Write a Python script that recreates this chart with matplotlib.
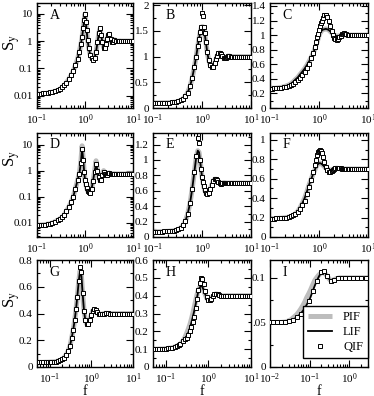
import matplotlib
matplotlib.use("Agg")
import matplotlib.pyplot as plt
from matplotlib.ticker import FuncFormatter, MultipleLocator, AutoMinorLocator

plt.rcParams["font.family"] = "serif"
plt.rcParams["font.serif"] = ["Liberation Serif", "DejaVu Serif"]
plt.rcParams["mathtext.fontset"] = "stix"

# ── frequency grids ───────────────────────────────────────────────────────────
f_top = [0.1, 0.11, 0.12, 0.135, 0.15, 0.17, 0.19, 0.21, 0.24, 0.27,
         0.3, 0.33, 0.37, 0.41, 0.46, 0.51, 0.57, 0.63, 0.7, 0.76,
         0.82, 0.87, 0.92, 0.96, 1.0, 1.04, 1.08, 1.13, 1.2, 1.28,
         1.37, 1.47, 1.58, 1.7, 1.82, 1.95, 2.05, 2.17, 2.3, 2.45,
         2.6, 2.75, 2.9, 3.05, 3.2, 3.4, 3.6, 3.85, 4.1, 4.4,
         4.8, 5.2, 5.7, 6.2, 6.8, 7.5, 8.2, 9.0, 10.0]
f_low = [0.05, 0.056, 0.063, 0.07, 0.08, 0.09, 0.1, 0.11, 0.125, 0.14,
         0.16, 0.18, 0.2, 0.22, 0.25, 0.28, 0.31, 0.34, 0.37, 0.4,
         0.43, 0.46, 0.5, 0.54, 0.58, 0.62, 0.67, 0.72, 0.78, 0.85,
         0.92, 1.0, 1.08, 1.17, 1.27, 1.38, 1.5, 1.65, 1.8, 2.0,
         2.2, 2.5, 2.8, 3.2, 3.6, 4.1, 4.7, 5.4, 6.2, 7.1,
         8.1, 9.0, 10.0]
f_i = [0.01, 0.011, 0.012, 0.0135, 0.015, 0.017, 0.019, 0.021, 0.024, 0.027,
       0.03, 0.034, 0.038, 0.043, 0.048, 0.054, 0.06, 0.068, 0.076, 0.085,
       0.095, 0.105, 0.12, 0.135, 0.15, 0.17, 0.19, 0.21, 0.23, 0.255,
       0.28, 0.31, 0.34, 0.38, 0.42, 0.47, 0.52, 0.58, 0.65, 0.72,
       0.8, 0.9, 1.0, 1.12, 1.25, 1.4, 1.6, 1.8, 2.0, 2.3,
       2.6, 3.0]

# ── panel A ───────────────────────────────────────────────────────────────────
lif_a = [0.011, 0.0112, 0.0115, 0.012, 0.012, 0.0125, 0.013, 0.0135, 0.0145, 0.0155,
         0.017, 0.02, 0.024, 0.03, 0.04, 0.055, 0.08, 0.13, 0.22, 0.4,
         0.75, 1.4, 3.0, 6.0, 10.0, 5.0, 2.5, 1.1, 0.55, 0.32,
         0.23, 0.21, 0.24, 0.4, 0.9, 2.0, 2.9, 1.7, 0.9, 0.58,
         0.55, 0.75, 1.2, 1.7, 1.8, 1.2, 0.9, 0.95, 1.12, 1.05,
         0.97, 1.02, 1.0, 1.0, 1.0, 1.0, 1.0, 1.0, 1.0]
pif_a = lif_a
qif_a = lif_a

# ── panel B ───────────────────────────────────────────────────────────────────
lif_b = [0.1, 0.1, 0.1, 0.1, 0.1, 0.101, 0.102, 0.104, 0.107, 0.112,
         0.12, 0.13, 0.15, 0.18, 0.23, 0.3, 0.42, 0.58, 0.8, 1.0,
         1.2, 1.35, 1.47, 1.55, 1.58, 1.58, 1.55, 1.45, 1.28, 1.08,
         0.93, 0.83, 0.79, 0.8, 0.87, 0.96, 1.02, 1.06, 1.07, 1.05,
         1.01, 0.98, 0.97, 0.98, 0.99, 1.01, 1.01, 1.0, 1.0, 1.0,
         1.0, 1.0, 1.0, 1.0, 1.0, 1.0, 1.0, 1.0, 1.0]
pif_b = lif_b
qif_b = [0.1, 0.1, 0.1, 0.1, 0.1, 0.101, 0.102, 0.104, 0.107, 0.112,
         0.12, 0.13, 0.15, 0.18, 0.23, 0.3, 0.42, 0.58, 0.8, 1.0,
         1.2, 1.35, 1.47, 1.57, 1.85, 1.78, 1.58, 1.45, 1.28, 1.08,
         0.93, 0.83, 0.79, 0.8, 0.87, 0.96, 1.02, 1.06, 1.07, 1.05,
         1.01, 0.98, 0.97, 0.98, 0.99, 1.01, 1.01, 1.0, 1.0, 1.0,
         1.0, 1.0, 1.0, 1.0, 1.0, 1.0, 1.0, 1.0, 1.0]

# ── panel C ───────────────────────────────────────────────────────────────────
lif_c = [0.265, 0.267, 0.27, 0.273, 0.277, 0.283, 0.29, 0.3, 0.315, 0.335,
         0.36, 0.39, 0.42, 0.46, 0.5, 0.54, 0.59, 0.64, 0.7, 0.75,
         0.81, 0.86, 0.91, 0.95, 0.99, 1.02, 1.04, 1.06, 1.075, 1.08,
         1.085, 1.08, 1.07, 1.05, 1.03, 1.01, 1.0, 0.99, 0.985, 0.985,
         0.99, 0.995, 1.0, 1.005, 1.005, 1.0, 1.0, 1.0, 1.0, 1.0,
         1.0, 1.0, 1.0, 1.0, 1.0, 1.0, 1.0, 1.0, 1.0]
pif_c = lif_c
qif_c = [0.265, 0.267, 0.27, 0.273, 0.277, 0.28, 0.285, 0.292, 0.302, 0.315,
         0.33, 0.35, 0.38, 0.41, 0.45, 0.5, 0.55, 0.61, 0.68, 0.75,
         0.83, 0.9, 0.97, 1.02, 1.07, 1.12, 1.16, 1.2, 1.24, 1.27,
         1.27, 1.25, 1.2, 1.13, 1.06, 1.0, 0.96, 0.94, 0.935, 0.95,
         0.97, 0.99, 1.01, 1.02, 1.025, 1.02, 1.01, 1.0, 1.0, 1.0,
         1.0, 1.0, 1.0, 1.0, 1.0, 1.0, 1.0, 1.0, 1.0]

# ── panel D ───────────────────────────────────────────────────────────────────
lif_d = [0.0078, 0.0079, 0.008, 0.0082, 0.0084, 0.0088, 0.0092, 0.0098, 0.011, 0.0125,
         0.014, 0.016, 0.02, 0.028, 0.04, 0.06, 0.1, 0.2, 0.42, 0.75,
         2.0, 7.0, 2.5, 0.9, 0.45, 0.3, 0.22, 0.17, 0.145, 0.14,
         0.2, 0.4, 0.9, 1.85, 1.0, 0.55, 0.42, 0.45, 0.65, 0.88,
         0.75, 0.65, 0.68, 0.78, 0.8, 0.74, 0.72, 0.76, 0.76, 0.75,
         0.75, 0.75, 0.75, 0.75, 0.75, 0.75, 0.75, 0.75, 0.75]
pif_d = [0.0078, 0.0079, 0.008, 0.0082, 0.0084, 0.0088, 0.0092, 0.0098, 0.011, 0.0125,
         0.014, 0.016, 0.02, 0.028, 0.04, 0.06, 0.1, 0.2, 0.42, 0.78,
         2.2, 9.0, 2.7, 0.95, 0.45, 0.3, 0.22, 0.17, 0.145, 0.14,
         0.2, 0.41, 0.95, 2.4, 1.1, 0.55, 0.41, 0.45, 0.68, 1.0,
         0.78, 0.64, 0.68, 0.8, 0.81, 0.74, 0.72, 0.76, 0.76, 0.75,
         0.75, 0.75, 0.75, 0.75, 0.75, 0.75, 0.75, 0.75, 0.75]
qif_d = lif_d

# ── panel E ───────────────────────────────────────────────────────────────────
lif_e = [0.07, 0.07, 0.07, 0.07, 0.071, 0.072, 0.073, 0.075, 0.078, 0.083,
         0.09, 0.1, 0.12, 0.15, 0.21, 0.3, 0.44, 0.62, 0.85, 1.03,
         1.12, 1.1, 0.98, 0.88, 0.78, 0.72, 0.66, 0.61, 0.57, 0.555,
         0.57, 0.62, 0.68, 0.73, 0.75, 0.75, 0.74, 0.72, 0.7, 0.69,
         0.7, 0.705, 0.705, 0.7, 0.7, 0.7, 0.7, 0.7, 0.7, 0.7,
         0.7, 0.7, 0.7, 0.7, 0.7, 0.7, 0.7, 0.7, 0.7]
pif_e = lif_e
qif_e = [0.07, 0.07, 0.07, 0.07, 0.071, 0.072, 0.073, 0.075, 0.078, 0.083,
         0.09, 0.1, 0.12, 0.15, 0.21, 0.3, 0.44, 0.62, 0.85, 1.05,
         1.28, 1.22, 1.0, 0.88, 0.78, 0.72, 0.66, 0.61, 0.57, 0.555,
         0.57, 0.62, 0.68, 0.73, 0.75, 0.75, 0.74, 0.72, 0.7, 0.69,
         0.7, 0.705, 0.705, 0.7, 0.7, 0.7, 0.7, 0.7, 0.7, 0.7,
         0.7, 0.7, 0.7, 0.7, 0.7, 0.7, 0.7, 0.7, 0.7]

# ── panel F ───────────────────────────────────────────────────────────────────
lif_f = [0.19, 0.19, 0.19, 0.191, 0.192, 0.194, 0.197, 0.2, 0.205, 0.213,
         0.225, 0.24, 0.265, 0.3, 0.35, 0.4, 0.47, 0.54, 0.6, 0.65,
         0.69, 0.72, 0.74, 0.752, 0.758, 0.76, 0.758, 0.752, 0.74, 0.725,
         0.71, 0.698, 0.69, 0.688, 0.692, 0.698, 0.703, 0.707, 0.708, 0.706,
         0.703, 0.7, 0.699, 0.7, 0.7, 0.7, 0.7, 0.7, 0.7, 0.7,
         0.7, 0.7, 0.7, 0.7, 0.7, 0.7, 0.7, 0.7, 0.7]
pif_f = lif_f
qif_f = [0.19, 0.19, 0.19, 0.191, 0.192, 0.194, 0.197, 0.2, 0.205, 0.213,
         0.222, 0.235, 0.255, 0.285, 0.325, 0.37, 0.44, 0.51, 0.59, 0.67,
         0.74, 0.79, 0.84, 0.87, 0.885, 0.89, 0.885, 0.86, 0.82, 0.77,
         0.72, 0.685, 0.665, 0.665, 0.675, 0.69, 0.7, 0.71, 0.715, 0.715,
         0.71, 0.705, 0.7, 0.7, 0.7, 0.7, 0.7, 0.7, 0.7, 0.7,
         0.7, 0.7, 0.7, 0.7, 0.7, 0.7, 0.7, 0.7, 0.7]

# ── panel G ───────────────────────────────────────────────────────────────────
lif_g = [0.035, 0.035, 0.035, 0.035, 0.036, 0.036, 0.037, 0.038, 0.039, 0.041,
         0.045, 0.05, 0.058, 0.068, 0.09, 0.12, 0.16, 0.22, 0.28, 0.35,
         0.43, 0.52, 0.64, 0.72, 0.68, 0.55, 0.42, 0.35, 0.32, 0.32,
         0.35, 0.39, 0.42, 0.43, 0.425, 0.41, 0.398, 0.394, 0.396, 0.4,
         0.402, 0.401, 0.4, 0.4, 0.4, 0.4, 0.4, 0.4, 0.4, 0.4,
         0.4, 0.4, 0.4]
pif_g = lif_g
qif_g = [0.035, 0.035, 0.035, 0.035, 0.036, 0.036, 0.037, 0.038, 0.039, 0.041,
         0.045, 0.05, 0.058, 0.068, 0.09, 0.12, 0.16, 0.22, 0.28, 0.35,
         0.43, 0.52, 0.64, 0.75, 0.71, 0.55, 0.42, 0.35, 0.32, 0.32,
         0.35, 0.39, 0.42, 0.43, 0.425, 0.41, 0.398, 0.394, 0.396, 0.4,
         0.402, 0.401, 0.4, 0.4, 0.4, 0.4, 0.4, 0.4, 0.4, 0.4,
         0.4, 0.4, 0.4]

# ── panel H ───────────────────────────────────────────────────────────────────
lif_h = [0.1, 0.1, 0.1, 0.101, 0.101, 0.102, 0.103, 0.104, 0.106, 0.108,
         0.112, 0.117, 0.123, 0.13, 0.143, 0.158, 0.175, 0.195, 0.22, 0.25,
         0.28, 0.31, 0.35, 0.39, 0.425, 0.445, 0.455, 0.45, 0.43, 0.405,
         0.385, 0.375, 0.375, 0.382, 0.395, 0.405, 0.41, 0.408, 0.403, 0.399,
         0.398, 0.4, 0.4, 0.4, 0.4, 0.4, 0.4, 0.4, 0.4, 0.4,
         0.4, 0.4, 0.4]
pif_h = [0.1, 0.1, 0.1, 0.101, 0.101, 0.102, 0.103, 0.104, 0.106, 0.108,
         0.112, 0.117, 0.123, 0.13, 0.143, 0.165, 0.19, 0.215, 0.24, 0.27,
         0.3, 0.33, 0.37, 0.405, 0.43, 0.445, 0.45, 0.445, 0.425, 0.405,
         0.385, 0.375, 0.375, 0.382, 0.395, 0.405, 0.41, 0.408, 0.403, 0.399,
         0.398, 0.4, 0.4, 0.4, 0.4, 0.4, 0.4, 0.4, 0.4, 0.4,
         0.4, 0.4, 0.4]
qif_h = [0.1, 0.1, 0.1, 0.101, 0.101, 0.102, 0.103, 0.104, 0.106, 0.108,
         0.112, 0.117, 0.123, 0.13, 0.143, 0.155, 0.165, 0.18, 0.2, 0.225,
         0.25, 0.28, 0.33, 0.38, 0.43, 0.47, 0.5, 0.495, 0.465, 0.425,
         0.395, 0.378, 0.375, 0.383, 0.397, 0.41, 0.412, 0.407, 0.401, 0.398,
         0.4, 0.4, 0.4, 0.4, 0.4, 0.4, 0.4, 0.4, 0.4, 0.4,
         0.4, 0.4, 0.4]

# ── panel I ───────────────────────────────────────────────────────────────────
lif_i = [0.05, 0.05, 0.05, 0.05, 0.05, 0.05, 0.05, 0.0502, 0.0505, 0.051,
         0.0515, 0.052, 0.053, 0.0545, 0.056, 0.058, 0.06, 0.063, 0.066, 0.07,
         0.074, 0.078, 0.085, 0.091, 0.096, 0.101, 0.105, 0.107, 0.107, 0.105,
         0.102, 0.099, 0.097, 0.097, 0.098, 0.099, 0.0995, 0.1, 0.1, 0.1,
         0.1, 0.1, 0.1, 0.1, 0.1, 0.1, 0.1, 0.1, 0.1, 0.1,
         0.1, 0.1]
pif_i = [0.05, 0.05, 0.05, 0.05, 0.05, 0.05, 0.05, 0.0502, 0.0505, 0.051,
         0.052, 0.053, 0.055, 0.057, 0.059, 0.062, 0.065, 0.069, 0.073, 0.078,
         0.082, 0.086, 0.092, 0.097, 0.1, 0.103, 0.105, 0.106, 0.106, 0.104,
         0.102, 0.099, 0.097, 0.097, 0.098, 0.099, 0.0995, 0.1, 0.1, 0.1,
         0.1, 0.1, 0.1, 0.1, 0.1, 0.1, 0.1, 0.1, 0.1, 0.1,
         0.1, 0.1]
qif_i = [0.05, 0.05, 0.05, 0.05, 0.05, 0.05, 0.05, 0.0502, 0.0505, 0.051,
         0.0515, 0.052, 0.053, 0.0545, 0.056, 0.058, 0.06, 0.063, 0.066, 0.07,
         0.074, 0.078, 0.085, 0.091, 0.096, 0.101, 0.106, 0.109, 0.108, 0.105,
         0.102, 0.099, 0.097, 0.097, 0.098, 0.099, 0.0995, 0.1, 0.1, 0.1,
         0.1, 0.1, 0.1, 0.1, 0.1, 0.1, 0.1, 0.1, 0.1, 0.1,
         0.1, 0.1]

# ── layout (pixel boxes of the 374x396 figure) ────────────────────────────────
W, H = 374, 396
col_x = [(37, 96), (153, 98), (270, 98)]
row_y = [(3, 108), (133, 237), (260, 367)]
ylabel_y = [0.62, 0.75, 0.63]

panels = [
    ("A", f_top, pif_a, lif_a, qif_a, (0.1, 10), (0.0035, 25), "log", None),
    ("B", f_top, pif_b, lif_b, qif_b, (0.1, 10), (0, 2.04), "lin", 0.5),
    ("C", f_top, pif_c, lif_c, qif_c, (0.1, 10), (0, 1.44), "lin", 0.2),
    ("D", f_top, pif_d, lif_d, qif_d, (0.1, 10), (0.0028, 28), "log", None),
    ("E", f_top, pif_e, lif_e, qif_e, (0.1, 10), (0, 1.35), "lin", 0.2),
    ("F", f_top, pif_f, lif_f, qif_f, (0.1, 10), (0, 1.07), "lin", 0.2),
    ("G", f_low, pif_g, lif_g, qif_g, (0.05, 10), (0, 0.8), "lin", 0.2),
    ("H", f_low, pif_h, lif_h, qif_h, (0.05, 10), (0, 0.6), "lin", 0.1),
    ("I", f_i, pif_i, lif_i, qif_i, (0.01, 3), (0, 0.12), "lin", 0.05),
]

fig = plt.figure(figsize=(W / 100, H / 100), dpi=100)


def ylab(v, pos):
    if abs(v - 0.05) < 1e-9:
        return ".05"
    return "%g" % v


for k, (letter, f, pif, lif, qif, xl, yl, ysc, step) in enumerate(panels):
    r, c = divmod(k, 3)
    x0, w = col_x[c]
    t, b = row_y[r]
    ax = fig.add_axes([x0 / W, 1 - b / H, w / W, (b - t) / H])

    ax.plot(f, pif, color="#bdbdbd", lw=3.6, solid_capstyle="butt", label="PIF", zorder=2)
    ax.plot(f, lif, color="black", lw=1.3, label="LIF", zorder=3)
    ax.plot(f, qif, ls="none", marker="s", ms=3.0, mfc="white", mec="black",
            mew=0.7, markevery=(2 if letter == "I" else 1), label="QIF", zorder=4)

    ax.set_xscale("log")
    ax.set_xlim(*xl)
    if ysc == "log":
        ax.set_yscale("log")
    else:
        ax.yaxis.set_major_locator(MultipleLocator(step))
        ax.yaxis.set_minor_locator(AutoMinorLocator(2))
    ax.set_ylim(*yl)
    ax.yaxis.set_major_formatter(FuncFormatter(ylab))

    ax.tick_params(which="both", direction="in", top=True, right=True,
                   labelsize=8, width=0.8, pad=3)
    ax.tick_params(which="major", length=5)
    ax.tick_params(which="minor", length=2.5)
    for s in ax.spines.values():
        s.set_linewidth(1.0)

    ax.text(0.13, 0.885, letter, transform=ax.transAxes, fontsize=10,
            ha="left", va="center")

    if c == 0:
        ax.set_ylabel(r"S$_\mathrm{y}$", fontsize=12)
        ax.yaxis.set_label_coords(-0.16, ylabel_y[r])
    if r == 2:
        ax.set_xlabel("f", fontsize=10)
        ax.xaxis.set_label_coords(0.5, -0.165)
    if letter == "I":
        ax.legend(loc="lower right", bbox_to_anchor=(1.0, 0.08), fontsize=9,
                  frameon=True, fancybox=False, framealpha=1, edgecolor="black",
                  borderpad=0.4, labelspacing=0.25, handlelength=1.9,
                  handletextpad=0.9, borderaxespad=0.0)

fig.savefig("out.png", dpi=100)
